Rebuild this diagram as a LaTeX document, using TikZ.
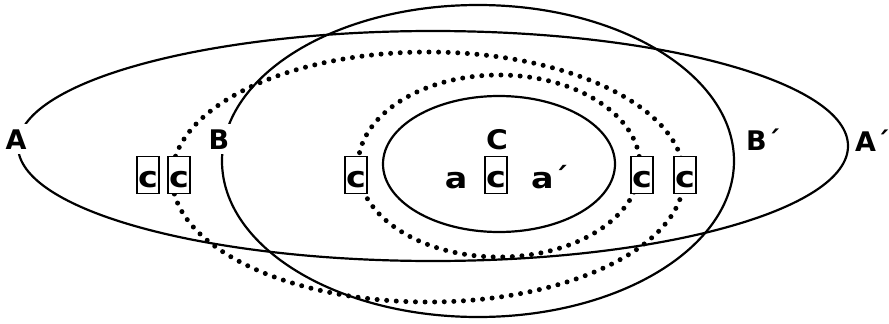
\documentclass[tikz,border=0pt]{standalone}
\usepackage{fontspec}
\setmainfont{DejaVu Sans}
\begin{document}
\begin{tikzpicture}[x=1pt,y=-1pt,
  solidline/.style={line width=2.2pt},
  dotline/.style={line width=5pt, line cap=round, dash pattern=on 0pt off 9.6pt},
  lbl/.style={font=\fontsize{27}{27}\selectfont\bfseries, fill=white, inner xsep=2pt, inner ysep=5pt},
  lowlbl/.style={font=\fontsize{29}{29}\selectfont\bfseries, inner sep=0pt},
  cbox/.style={draw, line width=1.4pt, fill=white, minimum width=22pt, minimum height=37pt, inner sep=0pt},
  ctext/.style={font=\fontsize{29}{29}\selectfont\bfseries, inner sep=0pt}]
\useasboundingbox (0,0) rectangle (889,324);
% ellipses
\draw[solidline] (433,146) ellipse [x radius=415pt, y radius=115pt];
\draw[solidline] (478,161) ellipse [x radius=256pt, y radius=156pt];
\draw[dotline] (428,177) ellipse [x radius=256pt, y radius=125pt];
\draw[dotline] (499,166) ellipse [x radius=141pt, y radius=91pt];
\draw[solidline] (499,164) ellipse [x radius=116pt, y radius=68pt];
% labels
\node[lbl, anchor=base] (lA) at (16,149) {A};
\node[lbl, anchor=base] (lB) at (219,149) {B};
\node[lbl, fill=none, anchor=base] (lC) at (497,149) {\scalebox{1.1}[1]{C}};
\node[lbl, fill=none, anchor=base west] (lBp) at (744,150) {B´};
\node[lbl, fill=none, anchor=base west] (lAp) at (853,151) {A´};
\node[lowlbl, anchor=base] (la) at (456,188) {\scalebox{1.15}[1]{a}};
\node[lowlbl, anchor=base west] (lap) at (531,188) {\scalebox{1.15}[1]{a}´};
% boxes
\node[cbox] (b1) at (148,175) {};
\node[cbox] (b2) at (179,175) {};
\node[cbox] (b3) at (356,175) {};
\node[cbox] (b4) at (496,175) {};
\node[cbox] (b5) at (642,175) {};
\node[cbox] (b6) at (685,175) {};
\node[ctext, anchor=base] (t1) at (148,187) {\scalebox{1.15}[1]{c}};
\node[ctext, anchor=base] (t2) at (179,187) {\scalebox{1.15}[1]{c}};
\node[ctext, anchor=base] (t3) at (356,187) {\scalebox{1.15}[1]{c}};
\node[ctext, anchor=base] (t4) at (496,187) {\scalebox{1.15}[1]{c}};
\node[ctext, anchor=base] (t5) at (642,187) {\scalebox{1.15}[1]{c}};
\node[ctext, anchor=base] (t6) at (685,187) {\scalebox{1.15}[1]{c}};
\end{tikzpicture}
\end{document}
